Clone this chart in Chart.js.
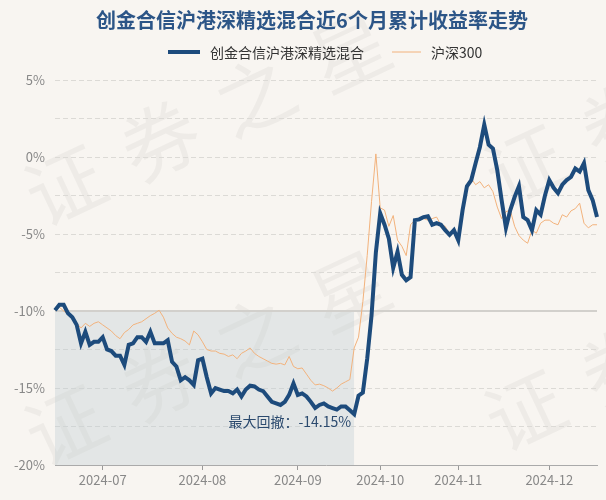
<!DOCTYPE html>
<html>
<head>
<meta charset="utf-8">
<script src="https://cdn.jsdelivr.net/npm/chart.js@4"></script>
<style>
  html, body { margin: 0; padding: 0; background: #f8f5f1; }
  #wrap { width: 606px; height: 500px; }
</style>
</head>
<body>
<div id="wrap"><canvas id="chart" width="606" height="500"></canvas></div>
<script>
const titleText = '创金合信沪港深精选混合近6个月累计收益率走势';
const fundName = '创金合信沪港深精选混合';
const indexName = '沪深300';

const dates = [
    '2024-06-14', '2024-06-17', '2024-06-18', '2024-06-19', '2024-06-20', '2024-06-21', '2024-06-24', '2024-06-25', '2024-06-26', '2024-06-27', '2024-06-28',
    '2024-07-01', '2024-07-02', '2024-07-03', '2024-07-04', '2024-07-05', '2024-07-08', '2024-07-09', '2024-07-10', '2024-07-11', '2024-07-12',
    '2024-07-15', '2024-07-16', '2024-07-17', '2024-07-18', '2024-07-19', '2024-07-22', '2024-07-23', '2024-07-24', '2024-07-25', '2024-07-26',
    '2024-07-29', '2024-07-30', '2024-07-31',
    '2024-08-01', '2024-08-02', '2024-08-05', '2024-08-06', '2024-08-07', '2024-08-08', '2024-08-09', '2024-08-12', '2024-08-13', '2024-08-14',
    '2024-08-15', '2024-08-16', '2024-08-19', '2024-08-20', '2024-08-21', '2024-08-22', '2024-08-23', '2024-08-26', '2024-08-27', '2024-08-28',
    '2024-08-29', '2024-08-30',
    '2024-09-02', '2024-09-03', '2024-09-04', '2024-09-05', '2024-09-06', '2024-09-09', '2024-09-10', '2024-09-11', '2024-09-12', '2024-09-13',
    '2024-09-18', '2024-09-19', '2024-09-20', '2024-09-23', '2024-09-24', '2024-09-25', '2024-09-26', '2024-09-27', '2024-09-30',
    '2024-10-08', '2024-10-09', '2024-10-10', '2024-10-11', '2024-10-14', '2024-10-15', '2024-10-16', '2024-10-17', '2024-10-18', '2024-10-21',
    '2024-10-22', '2024-10-23', '2024-10-24', '2024-10-25', '2024-10-28', '2024-10-29', '2024-10-30', '2024-10-31',
    '2024-11-01', '2024-11-04', '2024-11-05', '2024-11-06', '2024-11-07', '2024-11-08', '2024-11-11', '2024-11-12', '2024-11-13', '2024-11-14',
    '2024-11-15', '2024-11-18', '2024-11-19', '2024-11-20', '2024-11-21', '2024-11-22', '2024-11-25', '2024-11-26', '2024-11-27', '2024-11-28',
    '2024-11-29',
    '2024-12-02', '2024-12-03', '2024-12-04', '2024-12-05', '2024-12-06', '2024-12-09', '2024-12-10', '2024-12-11', '2024-12-12', '2024-12-13',
    '2024-12-16', '2024-12-17'
];

// 累计收益率 (%)
const fundReturns = [
    -9.95, -9.6, -9.6, -10.15, -10.4, -10.9, -12.1, -11.35, -12.2, -12.0,
    -12.0, -11.7, -12.5, -12.6, -12.9, -12.9, -13.5, -12.2, -12.1, -11.7,
    -11.7, -12.0, -11.35, -12.1, -12.1, -12.1, -11.9, -13.3, -13.6, -14.5,
    -14.3, -14.5, -14.8, -13.2, -13.1, -14.3, -15.35, -15.0, -15.1, -15.2,
    -15.2, -15.35, -15.1, -15.55, -15.1, -14.85, -14.9, -15.1, -15.2, -15.55,
    -15.9, -16.0, -16.1, -15.9, -15.45, -14.7, -15.45, -15.35, -15.55, -15.9,
    -16.3, -16.1, -16.0, -16.2, -16.3, -16.4, -16.2, -16.2, -16.45, -16.7,
    -15.5, -15.3, -13.1, -10.3, -6.2, -3.65, -4.4, -5.3, -7.2, -6.15,
    -7.65, -8.0, -7.8, -4.1, -4.05, -3.9, -3.85, -4.4, -4.3, -4.4,
    -4.75, -5.05, -4.75, -5.4, -3.45, -1.9, -1.5, -0.4, 0.65, 2.1,
    0.8, 0.55, -0.85, -2.8, -4.6, -3.45, -2.6, -1.9, -3.9, -4.1,
    -4.75, -3.45, -3.75, -2.5, -1.5, -2.0, -2.35, -1.8, -1.5, -1.3,
    -0.75, -0.95, -0.4, -2.15, -2.8, -3.9
];

const hs300Returns = [
    -9.95, -9.75, -10.0, -10.2, -10.4, -10.8, -11.1, -10.8, -11.0, -10.8,
    -10.7, -10.9, -11.1, -11.3, -11.6, -11.8, -11.4, -11.2, -10.9, -10.8,
    -10.7, -10.5, -10.3, -10.15, -9.95, -10.4, -11.1, -11.45, -11.7, -11.8,
    -11.95, -12.2, -11.3, -11.55, -12.0, -12.5, -12.6, -12.6, -12.75, -12.8,
    -12.95, -12.85, -13.1, -12.75, -12.6, -12.4, -12.75, -12.95, -13.1, -13.25,
    -13.4, -13.45, -13.4, -13.5, -12.95, -13.6, -13.75, -13.7, -14.1, -14.5,
    -14.8, -14.75, -14.85, -15.0, -15.2, -15.0, -14.75, -14.6, -14.45, -12.4,
    -11.7, -9.4, -6.4, -2.9, 0.2, -3.3, -3.45, -4.5, -3.8, -5.4,
    -5.8, -6.4, -4.4, -4.1, -4.1, -4.0, -4.1, -4.0, -3.9, -4.4,
    -4.5, -5.05, -4.85, -5.3, -3.25, -2.15, -1.4, -1.8, -1.6, -2.0,
    -1.8, -2.25, -3.25, -4.0, -3.55, -3.45, -4.5, -5.1, -5.4, -5.6,
    -4.75, -4.95, -4.3, -4.1, -4.1, -4.3, -4.4, -3.75, -3.9, -3.5,
    -3.35, -3.0, -4.3, -4.6, -4.4, -4.4
];

const startLevel = -10;          // 起始参考线
const drawdownEndIndex = 69;     // 最大回撤区间终点
const drawdownText = '最大回撤：-14.15%';

const BLUE = '#1d4b7c';
const ORANGE = '#f2b27c';
const FONT = '"Noto Sans CJK SC", "Noto Sans", sans-serif';

const baseLine = dates.map(() => startLevel);
const drawdownArea = dates.map((d, i) => i <= drawdownEndIndex ? startLevel : null);

const decor = {
    id: 'decor',
    beforeDraw(chart) {
        const { ctx, width, height } = chart;
        ctx.save();
        ctx.fillStyle = '#f8f5f1';
        ctx.fillRect(0, 0, width, height);
        // watermark
        ctx.fillStyle = 'rgba(0,0,0,0.04)';
        ctx.font = '78px ' + FONT;
        ctx.textAlign = 'center';
        ctx.textBaseline = 'middle';
        const spots = [[65, 185], [65, 425], [525, 165], [525, 410]];
        spots.forEach(([x, y]) => {
            ctx.save();
            ctx.translate(x, y);
            ctx.rotate(-0.44);
            ['证', '券', '之', '星'].forEach((ch, k) => ctx.fillText(ch, k * 105, 0));
            ctx.restore();
        });
        ctx.restore();
    },
    afterDraw(chart) {
        const { ctx } = chart;
        ctx.save();
        // title
        ctx.fillStyle = '#2c5587';
        ctx.font = 'bold 20px ' + FONT;
        ctx.textAlign = 'center';
        ctx.textBaseline = 'middle';
        ctx.fillText(titleText, 312, 20);

        // legend
        ctx.font = '14px ' + FONT;
        ctx.textAlign = 'left';
        ctx.fillStyle = '#333';
        ctx.strokeStyle = BLUE;
        ctx.lineWidth = 4;
        ctx.beginPath(); ctx.moveTo(168, 52); ctx.lineTo(200, 52); ctx.stroke();
        ctx.fillText(fundName, 210, 53);
        ctx.strokeStyle = ORANGE;
        ctx.lineWidth = 1;
        ctx.beginPath(); ctx.moveTo(392, 52); ctx.lineTo(421, 52); ctx.stroke();
        ctx.fillText(indexName, 431, 53);

        // drawdown label
        const x = chart.scales.x.getPixelForValue(drawdownEndIndex);
        const trough = Math.min(...fundReturns.slice(0, drawdownEndIndex + 1));
        const y = chart.scales.y.getPixelForValue(trough);
        ctx.font = '14px ' + FONT;
        ctx.fillStyle = '#2b4a6e';
        ctx.textAlign = 'right';
        ctx.textBaseline = 'middle';
        ctx.fillText(drawdownText, x - 3, y + 8);
        ctx.restore();
    }
};

new Chart(document.getElementById('chart'), {
    type: 'line',
    data: {
        labels: dates,
        datasets: [
            {
                label: fundName,
                data: fundReturns,
                borderColor: BLUE,
                borderWidth: 4,
                pointRadius: 0,
                tension: 0,
                order: 0
            },
            {
                label: indexName,
                data: hs300Returns,
                borderColor: ORANGE,
                borderWidth: 1,
                pointRadius: 0,
                tension: 0,
                order: 1
            },
            {
                label: 'base',
                data: baseLine,
                borderColor: '#d2d0cc',
                borderWidth: 2,
                pointRadius: 0,
                order: 2
            },
            {
                label: 'drawdown',
                data: drawdownArea,
                borderWidth: 0,
                borderColor: 'rgba(0,0,0,0)',
                backgroundColor: 'rgba(190,205,212,0.36)',
                pointRadius: 0,
                fill: 'start',
                spanGaps: false,
                order: 3
            }
        ]
    },
    options: {
        responsive: false,
        animation: false,
        layout: { padding: { top: 80, right: 9, left: 0, bottom: 0 } },
        plugins: {
            legend: { display: false },
            title: { display: false },
            tooltip: { enabled: false }
        },
        scales: {
            x: {
                type: 'category',
                grid: { display: true, drawOnChartArea: false, drawTicks: true, tickLength: 5, color: '#999' },
                border: { display: true, color: '#aaa', width: 1 },
                ticks: {
                    autoSkip: false,
                    maxRotation: 0,
                    padding: 2,
                    color: '#888',
                    font: { family: FONT, size: 13 },
                    callback: function (value, index) {
                        if (index === 0) return null;
                        const cur = dates[index].slice(0, 7);
                        return cur !== dates[index - 1].slice(0, 7) ? cur : null;
                    }
                },
                afterFit(scale) { scale.height = 35; }
            },
            y: {
                min: -20,
                max: 5,
                grid: { color: '#dcdad6', lineWidth: 1, drawTicks: false },
                border: { display: false, dash: [5, 3] },
                ticks: {
                    stepSize: 2.5,
                    padding: 10,
                    color: '#888',
                    font: { family: FONT, size: 13 },
                    callback: v => (v % 5 === 0 ? v + '%' : '')
                },
                afterFit(scale) { scale.width = 55; }
            }
        }
    },
    plugins: [decor]
});
</script>
</body>
</html>
